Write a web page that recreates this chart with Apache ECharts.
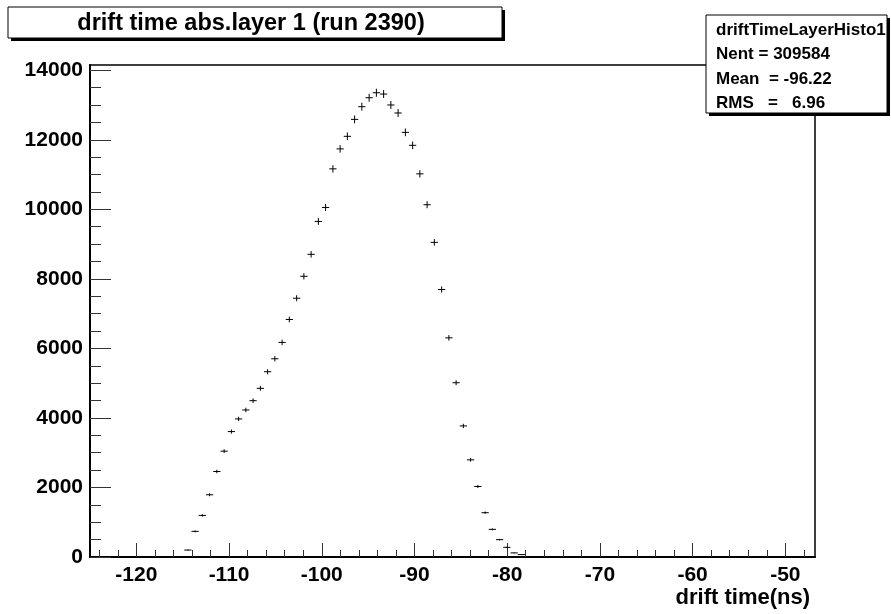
<!DOCTYPE html>
<html>
<head>
<meta charset="utf-8">
<script src="https://cdn.jsdelivr.net/npm/echarts@6/dist/echarts.min.js"></script>
<style>
  html, body { margin: 0; padding: 0; background: #fff; }
  #driftTime { width: 891px; height: 614px; }
</style>
</head>
<body>
<div id="driftTime"></div>
<script>
// histogram driftTimeLayerHisto1, bins (empty bins left out)
var binWidth = 0.782;
var binCenters = [
  -114.44, -113.66, -112.88, -112.10, -111.32, -110.53, -109.75, -108.97, -108.19, -107.41,
  -106.62, -105.84, -105.06, -104.28, -103.50, -102.71, -101.93, -101.15, -100.37, -99.59,
  -98.80, -98.02, -97.24, -96.46, -95.68, -94.89, -94.11, -93.33, -92.55, -91.77,
  -90.98, -90.20, -89.42, -88.64, -87.86, -87.07, -86.29, -85.51, -84.73, -83.95,
  -83.16, -82.38, -81.60, -80.82, -80.04, -79.25, -78.47
];
var counts = [
  200, 737, 1196, 1790, 2459, 3044, 3607, 3971, 4229, 4496,
  4851, 5328, 5701, 6171, 6831, 7442, 8073, 8705, 9651, 10053,
  11163, 11737, 12099, 12586, 12951, 13209, 13352, 13315, 13000, 12770,
  12213, 11840, 11020, 10131, 9049, 7692, 6303, 5012, 3770, 2794,
  2028, 1274, 795, 499, 278, 118, 69
];
var xMajorTicks = [-120, -110, -100, -90, -80, -70, -60, -50];
var xMinorTicks = [-124, -122, -118, -116, -114, -112, -108, -106, -104, -102, -98, -96, -94, -92,
  -88, -86, -84, -82, -78, -76, -74, -72, -68, -66, -64, -62, -58, -56, -54, -52, -48];
var yMajorTicks = [0, 2000, 4000, 6000, 8000, 10000, 12000, 14000];
var yMinorTicks = [500, 1000, 1500, 2500, 3000, 3500, 4500, 5000, 5500, 6500, 7000, 7500,
  8500, 9000, 9500, 10500, 11000, 11500, 12500, 13000, 13500];

var titleText = 'drift time abs.layer 1 (run 2390)';
var statsLines = ['driftTimeLayerHisto1', 'Nent = 309584', 'Mean  = -96.22', 'RMS   =   6.96'];
var xName = 'drift time(ns)';

var FONT = "'Liberation Sans', Arial, Helvetica, sans-serif";

var points = [];
for (var i = 0; i < counts.length; i++) {
  points.push([binCenters[i], counts[i], Math.sqrt(counts[i])]);
}

var dom = document.getElementById('driftTime');
var myChart = echarts.init(dom, null, { renderer: 'canvas' });

function plain(v) { return String(v); }

function xAxisCommon(extra) {
  return Object.assign({
    type: 'value',
    gridIndex: 0,
    position: 'bottom',
    min: -125,
    max: -46.8,
    splitLine: { show: false }
  }, extra);
}
function yAxisCommon(extra) {
  return Object.assign({
    type: 'value',
    gridIndex: 0,
    position: 'left',
    min: 0,
    max: 14150,
    splitLine: { show: false }
  }, extra);
}

var option = {
  animation: false,
  backgroundColor: '#fff',
  grid: {
    left: 90, top: 65, right: 76, bottom: 57,
    show: true, borderColor: '#000', borderWidth: 1.5, backgroundColor: 'transparent'
  },
  xAxis: [
    xAxisCommon({
      axisLine: { show: true, lineStyle: { color: '#000', width: 2 } },
      axisTick: { show: true, inside: true, length: 14, customValues: xMajorTicks,
        lineStyle: { color: '#333', width: 1 } },
      axisLabel: { show: true, customValues: xMajorTicks, margin: 8, formatter: plain,
        fontFamily: FONT, fontWeight: 'bold', fontSize: 21, color: '#000' }
    }),
    xAxisCommon({
      axisLine: { show: false },
      axisTick: { show: true, inside: true, length: 7, customValues: xMinorTicks,
        lineStyle: { color: '#333', width: 1 } },
      axisLabel: { show: false }
    })
  ],
  yAxis: [
    yAxisCommon({
      axisLine: { show: true, lineStyle: { color: '#000', width: 2 } },
      axisTick: { show: true, inside: true, length: 21, customValues: yMajorTicks,
        lineStyle: { color: '#333', width: 1 } },
      axisLabel: { show: true, customValues: yMajorTicks, margin: 7, formatter: plain,
        fontFamily: FONT, fontWeight: 'bold', fontSize: 21, color: '#000' }
    }),
    yAxisCommon({
      axisLine: { show: false },
      axisTick: { show: true, inside: true, length: 11, customValues: yMinorTicks,
        lineStyle: { color: '#333', width: 1 } },
      axisLabel: { show: false }
    })
  ],
  series: [{
    type: 'custom',
    xAxisIndex: 0,
    yAxisIndex: 0,
    data: points,
    clip: true,
    renderItem: function (params, api) {
      var x = api.value(0), y = api.value(1), e = api.value(2);
      var l = api.coord([x - binWidth / 2, y]);
      var r = api.coord([x + binWidth / 2, y]);
      var t = api.coord([x, y + e]);
      var b = api.coord([x, y - e]);
      return {
        type: 'group',
        children: [
          { type: 'line', shape: { x1: l[0], y1: l[1], x2: r[0], y2: r[1] },
            style: { stroke: '#000', lineWidth: 1 } },
          { type: 'line', shape: { x1: t[0], y1: t[1], x2: b[0], y2: b[1] },
            style: { stroke: '#000', lineWidth: 1 } }
        ]
      };
    }
  }],
  graphic: [
    // title pave
    { type: 'rect', z: 10, shape: { x: 11, y: 10, width: 494, height: 31 }, style: { fill: '#000' } },
    { type: 'rect', z: 11, shape: { x: 8, y: 7, width: 494, height: 31 },
      style: { fill: '#fff', stroke: '#000', lineWidth: 1 } },
    { type: 'text', z: 12, x: 251, y: 24,
      style: { text: titleText, fill: '#000', font: 'bold 23.5px ' + FONT, align: 'center', verticalAlign: 'middle' } },
    // stats box
    { type: 'rect', z: 10, shape: { x: 709, y: 18, width: 181, height: 98 }, style: { fill: '#000' } },
    { type: 'rect', z: 11, shape: { x: 706, y: 15, width: 181, height: 98 },
      style: { fill: '#fff', stroke: '#000', lineWidth: 1 } },
    { type: 'text', z: 12, x: 716, y: 30,
      style: { text: statsLines[0], fill: '#000', font: 'bold 17px ' + FONT, verticalAlign: 'middle' } },
    { type: 'text', z: 12, x: 716, y: 54.5,
      style: { text: statsLines[1], fill: '#000', font: 'bold 17px ' + FONT, verticalAlign: 'middle' } },
    { type: 'text', z: 12, x: 716, y: 79,
      style: { text: statsLines[2], fill: '#000', font: 'bold 17px ' + FONT, verticalAlign: 'middle' } },
    { type: 'text', z: 12, x: 716, y: 103.5,
      style: { text: statsLines[3], fill: '#000', font: 'bold 17px ' + FONT, verticalAlign: 'middle' } },
    // x axis title
    { type: 'text', z: 12, x: 810, y: 598,
      style: { text: xName, fill: '#000', font: 'bold 22px ' + FONT, align: 'right', verticalAlign: 'middle' } }
  ]
};

myChart.setOption(option, true);
</script>
</body>
</html>
